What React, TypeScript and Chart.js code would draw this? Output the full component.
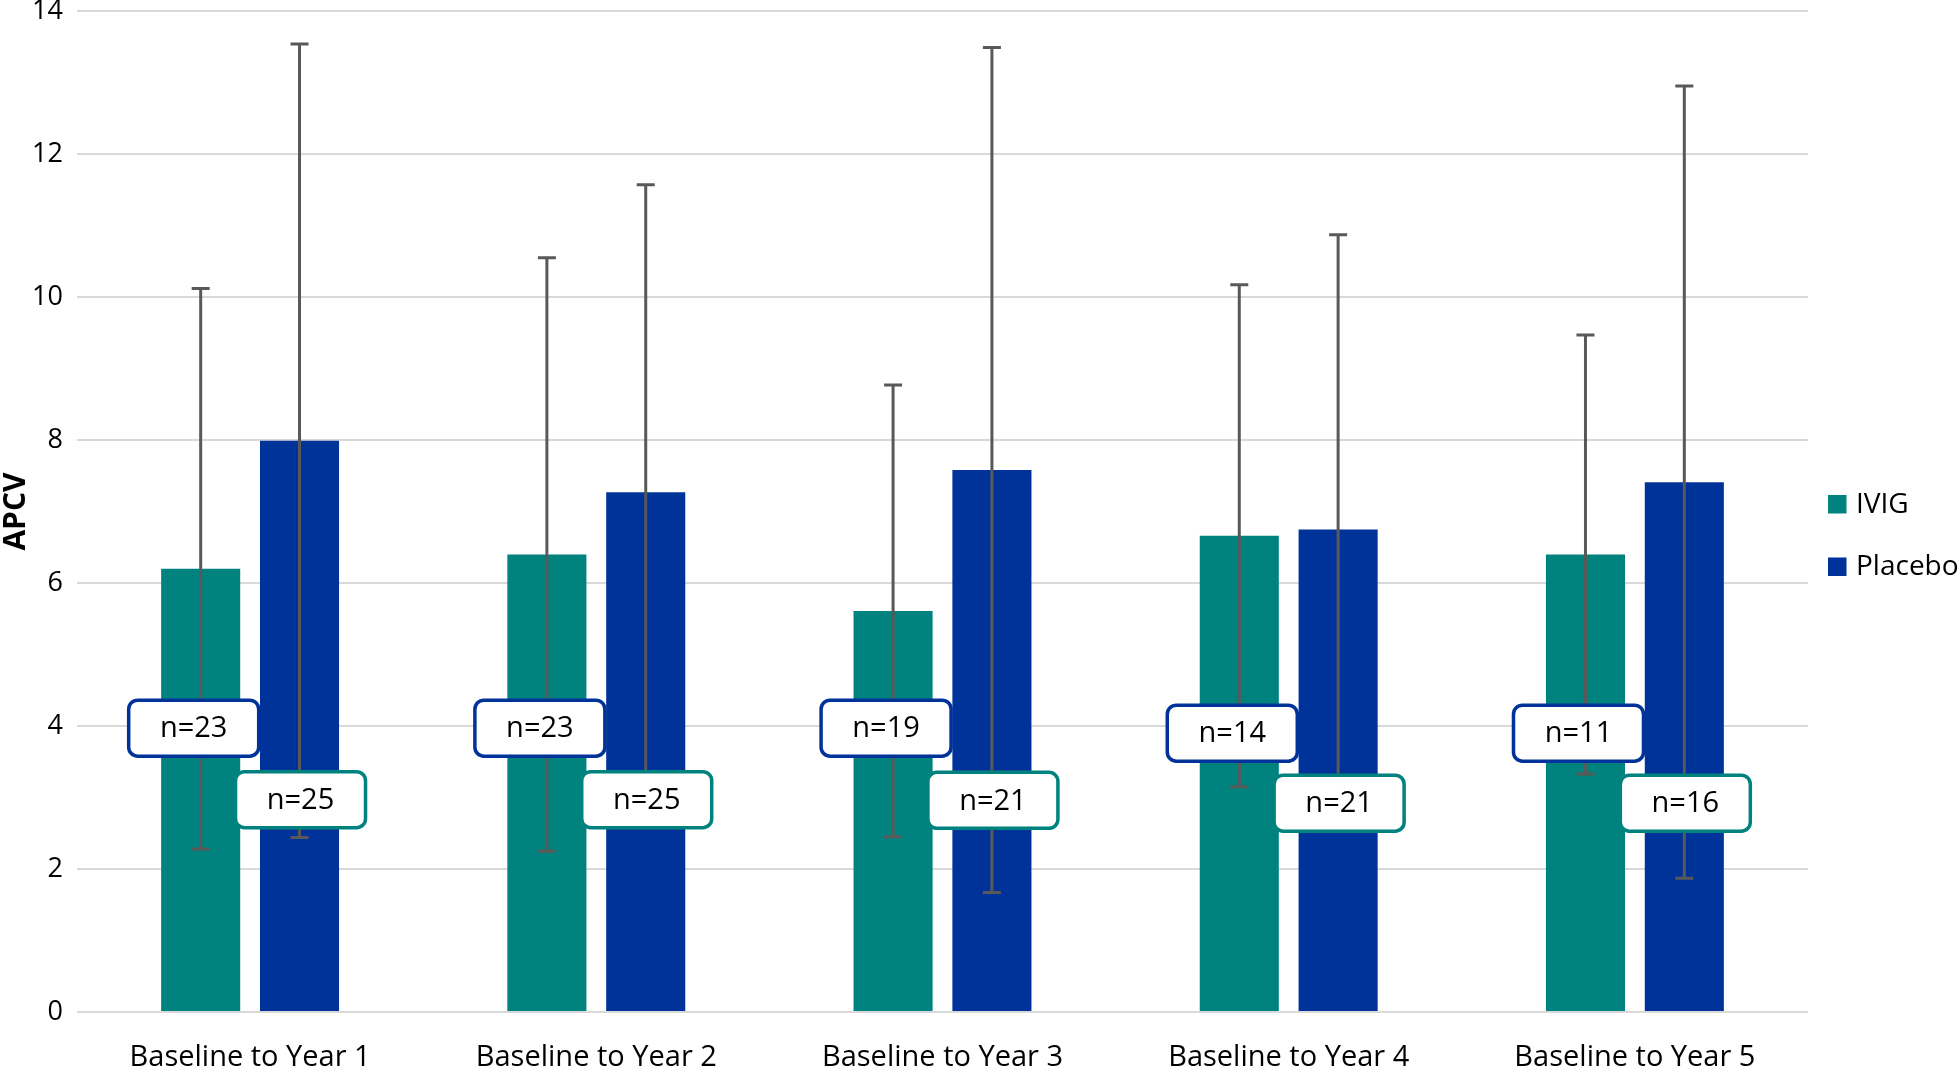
import { useEffect, useRef } from 'react';
import { Chart, registerables } from 'chart.js';

Chart.register(...registerables);

const categories = [
  'Baseline to Year 1',
  'Baseline to Year 2',
  'Baseline to Year 3',
  'Baseline to Year 4',
  'Baseline to Year 5',
];
const ivigMean = [6.2, 6.4, 5.61, 6.66, 6.4];
const ivigSD = [3.92, 4.15, 3.16, 3.51, 3.07];
const placeboMean = [7.99, 7.27, 7.58, 6.75, 7.41];
const placeboSD = [5.55, 4.3, 5.91, 4.12, 5.54];
const ivigN = [23, 23, 19, 14, 11];
const placeboN = [25, 25, 21, 21, 16];
const ivigLabelAt = [3.97, 3.97, 3.97, 3.9, 3.9];
const placeboLabelAt = [2.97, 2.97, 2.96, 2.92, 2.92];
const seriesNames = ['IVIG', 'Placebo'];

const TEAL = '#00827F';
const BLUE = '#003399';
const FONT = "'Open Sans', sans-serif";

const overlayPlugin = {
  id: 'overlay',
  afterDatasetsDraw(chart: any) {
    const ctx = chart.ctx;
    const y = chart.scales.y;
    const means = [ivigMean, placeboMean];
    const sds = [ivigSD, placeboSD];
    ctx.save();
    // error bars
    ctx.strokeStyle = '#595959';
    ctx.lineWidth = 3;
    for (let d = 0; d < 2; d++) {
      const meta = chart.getDatasetMeta(d);
      meta.data.forEach((bar: any, i: number) => {
        const x = bar.x;
        const top = y.getPixelForValue(means[d][i] + sds[d][i]);
        const bot = y.getPixelForValue(means[d][i] - sds[d][i]);
        ctx.beginPath();
        ctx.moveTo(x, top);
        ctx.lineTo(x, bot);
        ctx.moveTo(x - 9, top);
        ctx.lineTo(x + 9, top);
        ctx.moveTo(x - 9, bot);
        ctx.lineTo(x + 9, bot);
        ctx.stroke();
      });
    }
    // n labels
    const ns = [ivigN, placeboN];
    const at = [ivigLabelAt, placeboLabelAt];
    const borders = [BLUE, TEAL];
    const shifts = [-7, 1];
    const w = 130;
    const h = 56;
    for (let d = 0; d < 2; d++) {
      const meta = chart.getDatasetMeta(d);
      meta.data.forEach((bar: any, i: number) => {
        const cx = bar.x + shifts[d];
        const cy = y.getPixelForValue(at[d][i]);
        ctx.beginPath();
        ctx.roundRect(cx - w / 2, cy - h / 2, w, h, 9);
        ctx.fillStyle = '#ffffff';
        ctx.fill();
        ctx.lineWidth = 3.5;
        ctx.strokeStyle = borders[d];
        ctx.stroke();
        ctx.fillStyle = '#000000';
        ctx.font = `29px ${FONT}`;
        ctx.textAlign = 'center';
        ctx.textBaseline = 'middle';
        ctx.fillText(`n=${ns[d][i]}`, cx, cy + 1);
      });
    }
    ctx.restore();
  },
  afterDraw(chart: any) {
    const ctx = chart.ctx;
    ctx.save();
    const colors = [TEAL, BLUE];
    const ys = [504, 566.5];
    ctx.font = `28px ${FONT}`;
    ctx.textAlign = 'left';
    ctx.textBaseline = 'middle';
    for (let i = 0; i < 2; i++) {
      ctx.fillStyle = colors[i];
      ctx.fillRect(1828, ys[i] - 9, 18.5, 18.5);
      ctx.fillStyle = '#000000';
      ctx.fillText(seriesNames[i], 1856, ys[i] + 1);
    }
    ctx.restore();
  },
};

export default function App() {
  const ref = useRef<HTMLCanvasElement | null>(null);
  useEffect(() => {
    document.body.style.margin = '0';
    if (!ref.current) return;
    const chart = new Chart(ref.current, {
      type: 'bar',
      data: {
        labels: categories,
        datasets: [
          {
            label: seriesNames[0],
            data: ivigMean,
            backgroundColor: TEAL,
            categoryPercentage: 0.571,
            barPercentage: 0.8,
          },
          {
            label: seriesNames[1],
            data: placeboMean,
            backgroundColor: BLUE,
            categoryPercentage: 0.571,
            barPercentage: 0.8,
          },
        ],
      },
      options: {
        responsive: false,
        animation: false,
        layout: { padding: { top: 11, right: 151, left: 0, bottom: 0 } },
        plugins: {
          legend: { display: false },
          tooltip: { enabled: false },
        },
        scales: {
          x: {
            grid: { display: false },
            border: { display: false },
            ticks: {
              font: { family: FONT, size: 29 },
              color: '#000000',
              padding: 20,
              maxRotation: 0,
            },
            afterFit: (s: any) => {
              s.height = 54;
              s.paddingLeft = 0;
              s.paddingRight = 0;
            },
          },
          y: {
            min: 0,
            max: 14,
            ticks: {
              stepSize: 2,
              font: { family: FONT, size: 27 },
              color: '#000000',
              padding: 14,
            },
            grid: { color: '#d9d9d9', lineWidth: 2, drawTicks: false },
            border: { display: false },
            title: {
              display: true,
              text: 'APCV',
              font: { family: FONT, size: 30, weight: 'bold' },
              color: '#000000',
              padding: { top: -2, bottom: 0 },
            },
            afterFit: (s: any) => {
              s.width = 77;
              s.paddingTop = 0;
              s.paddingBottom = 0;
            },
          },
        },
      },
      plugins: [overlayPlugin],
    } as any);
    return () => chart.destroy();
  }, []);
  return (
    <canvas
      ref={ref}
      width={1959}
      height={1066}
      style={{ display: 'block', width: 1959, height: 1066 }}
    />
  );
}
